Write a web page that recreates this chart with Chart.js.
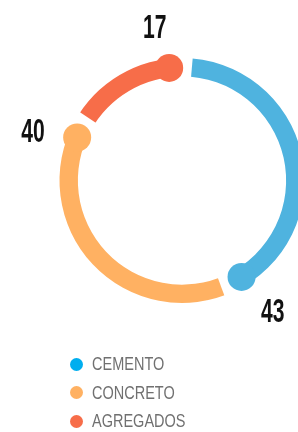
<!DOCTYPE html>
<html>
<head>
<meta charset="utf-8">
<script src="https://cdn.jsdelivr.net/npm/chart.js@4"></script>
<style>
  html, body { margin: 0; padding: 0; background: #fff; overflow: hidden; width: 298px; height: 432px; }
  #caja { position: absolute; left: 0; top: 0; width: 364px; height: 361px; }
  #leyenda { position: absolute; left: 70px; top: 350px; margin: 0; padding: 0; list-style: none;
    font-family: "Liberation Sans", Arial, sans-serif; font-size: 17.7px; color: #707070; }
  #leyenda li { height: 28.5px; line-height: 28.5px; display: flex; align-items: center; white-space: nowrap; }
  #leyenda span.punto { width: 13px; height: 13px; border-radius: 50%; display: inline-block; margin-right: 9px; flex: none; }
  #leyenda span.texto { display: inline-block; transform: scaleX(0.82); transform-origin: left center; }
</style>
</head>
<body>
<div id="caja"><canvas id="graficoMateriales" width="364" height="361"></canvas></div>
<ul id="leyenda"></ul>
<script>
// Datos del gráfico
const categorias = ['CEMENTO', 'CONCRETO', 'AGREGADOS'];
const valores = [43, 40, 17];
const coloresAnillo = ['#4FB3DF', '#FFB162', '#F76D49'];
const coloresLeyenda = ['#00AEEF', '#FFB162', '#F76D49'];

const grados = Math.PI / 180;

// Plugin: cortes entre segmentos, puntos al final y números
const extremos = {
  id: 'extremos',
  afterDatasetsDraw(chart) {
    const ctx = chart.ctx;
    const arcos = chart.getDatasetMeta(0).data;
    const antes = 6.5 * grados; // corte antes del final
    const despues = 5 * grados; // corte despues del final

    ctx.save();
    // huecos blancos
    arcos.forEach(arco => {
      ctx.beginPath();
      ctx.moveTo(arco.x, arco.y);
      ctx.arc(arco.x, arco.y, arco.outerRadius + 2, arco.endAngle - antes, arco.endAngle + despues);
      ctx.closePath();
      ctx.fillStyle = '#fff';
      ctx.fill();
    });
    // puntos y etiquetas
    arcos.forEach((arco, i) => {
      const medio = (arco.innerRadius + arco.outerRadius) / 2;
      const a = arco.endAngle - antes;
      ctx.beginPath();
      ctx.arc(arco.x + Math.cos(a) * medio, arco.y + Math.sin(a) * medio, 14, 0, Math.PI * 2);
      ctx.fillStyle = coloresAnillo[i];
      ctx.fill();

      const b = arco.endAngle - 10 * grados;
      const r = arco.outerRadius + 35;
      ctx.save();
      ctx.translate(arco.x + Math.cos(b) * r, arco.y + Math.sin(b) * r);
      ctx.scale(0.62, 1);
      ctx.font = 'bold 34px "Liberation Sans", Arial, sans-serif';
      ctx.fillStyle = '#111';
      ctx.textAlign = 'center';
      ctx.textBaseline = 'middle';
      ctx.fillText(String(valores[i]), 0, 3);
      ctx.restore();
    });
    ctx.restore();
  }
};

const ctx = document.getElementById('graficoMateriales').getContext('2d');
const grafico = new Chart(ctx, {
  type: 'doughnut',
  data: {
    labels: categorias,
    datasets: [{
      data: valores,
      backgroundColor: coloresAnillo,
      borderWidth: 0
    }]
  },
  options: {
    responsive: false,
    animation: false,
    cutout: '85%',
    layout: { padding: { left: 59.5, right: 59.5, top: 58, bottom: 58 } },
    plugins: {
      legend: { display: false },
      tooltip: { enabled: false }
    },
    events: []
  },
  plugins: [extremos]
});

// Leyenda en HTML
const leyenda = document.getElementById('leyenda');
categorias.forEach((cat, i) => {
  leyenda.innerHTML += `<li><span class="punto" style="background:${coloresLeyenda[i]}"></span><span class="texto">${cat}</span></li>`;
});
</script>
</body>
</html>
